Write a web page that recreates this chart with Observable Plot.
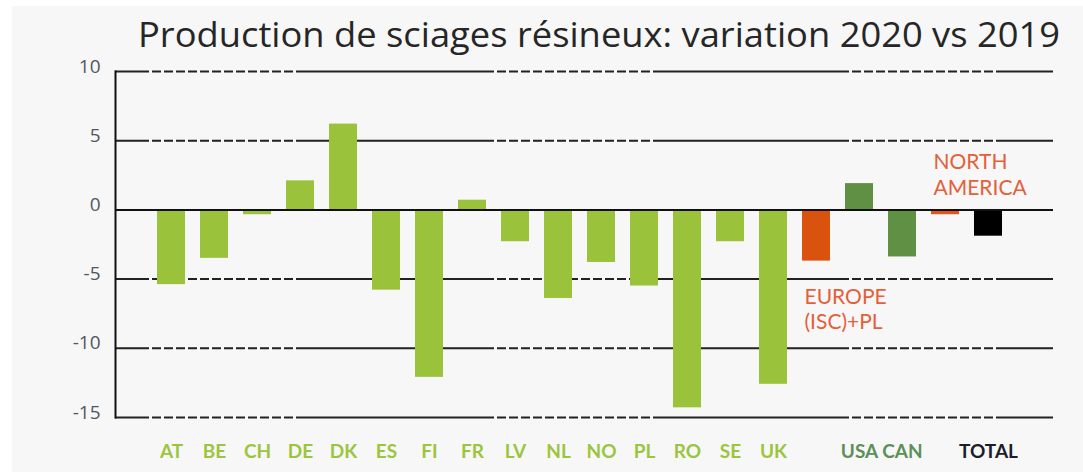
<!DOCTYPE html>
<html><head><meta charset="utf-8">
<script src="https://cdn.jsdelivr.net/npm/d3@7"></script>
<script src="https://cdn.jsdelivr.net/npm/@observablehq/plot@0.6"></script>
<style>
html,body{margin:0;padding:0;background:#fff;}
#wrap{position:relative;width:1083px;height:472px;overflow:hidden;}
#bg{position:absolute;left:12px;top:6px;right:0;bottom:0;background:#f7f7f7;}
#title{position:absolute;left:138px;top:14px;font-family:"Open Sans";font-size:35px;line-height:40px;color:#262626;white-space:nowrap;transform-origin:0 0;}
#chart{position:absolute;left:0;top:50px;}
</style></head>
<body><div id="wrap"><div id="bg"></div><div id="title">Production de sciages résineux: variation 2020 vs 2019</div><div id="chart"></div></div>
<script>
// ---- data ----
const categories = ["AT","BE","CH","DE","DK","ES","FI","FR","LV","NL","NO","PL","RO","SE","UK","EUROPE","USA","CAN","NORTH_AMERICA","TOTAL"];
const values     = [-5.4,-3.5,-0.35,2.1,6.2,-5.8,-12.1,0.7,-2.3,-6.4,-3.8,-5.5,-14.3,-2.3,-12.6,-3.7,1.9,-3.4,-0.35,-1.9];
const tickLabels = ["AT","BE","CH","DE","DK","ES","FI","FR","LV","NL","NO","PL","RO","SE","UK","","USA","CAN","","TOTAL"];
const groups     = ["country","country","country","country","country","country","country","country","country","country","country","country","country","country","country","europe","na_country","na_country","north_america","total"];
const yTicks = [10,5,0,-5,-10,-15];
const gridTicks = [10,5,-5,-10,-15];
const annotationCats = ["EUROPE","NORTH_AMERICA"];
const annotationY    = [-7.1, 2.6];
const annotationText = ["EUROPE\n(ISC)+PL","NORTH\nAMERICA"];

// ---- styles ----
const barColor = {country:"#9ac23a", europe:"#d9520e", na_country:"#5f9044", north_america:"#e0561c", total:"#000000"};
const labelColor = {country:"#9cc53e", europe:"#9cc53e", na_country:"#5d8f58", north_america:"#5d8f58", total:"#1c1c2a"};

// gridline pattern: solid / dashed stretches along the line
function buildDash(segs){
  const arr=[]; let pending=0;
  for (const [len,type] of segs){
    if (type==="s") pending += len;
    else { const n=Math.round(len/12); for (let i=0;i<n;i++){ arr.push(pending+9, 3); pending=0; } }
  }
  arr.push(pending+50, 0);
  return arr.join(",");
}
const dash = buildDash([[25,"s"],[158,"d"],[189,"s"],[171,"d"],[187,"s"],[160,"d"],[48,"s"]]);

const data = categories.map((c,i)=>({cat:c, value:values[i], label:tickLabels[i], group:groups[i]}));
const notes = annotationCats.map((c,i)=>({cat:c, y:annotationY[i], text:annotationText[i]}));

const plot = Plot.plot({
  width:1083, height:422,
  marginLeft:115, marginRight:30, marginTop:21, marginBottom:55,
  style:{background:"transparent", fontFamily:"Open Sans", overflow:"visible"},
  x:{domain:categories, axis:null, paddingInner:0.35, paddingOuter:0.175, insetLeft:30, insetRight:40},
  y:{domain:[-15,10], axis:null},
  marks:[
    Plot.ruleY(gridTicks, {stroke:"#222", strokeWidth:2, strokeDasharray:dash}),
    Plot.barY(data, {x:"cat", y:"value", fill:d=>barColor[d.group]}),
    Plot.ruleY([0], {stroke:"#111", strokeWidth:2}),
    Plot.frame({anchor:"left", stroke:"#111", strokeWidth:2}),
    Plot.axisY({ticks:yTicks, tickFormat:d=>String(d), tickSize:0, tickPadding:15, fontSize:19, fill:"#4f5763", dy:-5, label:null}),
    Plot.text(data, {x:"cat", text:"label", frameAnchor:"bottom", dy:40, fill:d=>labelColor[d.group], fontSize:19, fontWeight:"bold", fontFamily:"Lato"}),
    Plot.text(notes, {x:"cat", y:"y", text:"text", textAnchor:"start", dx:-12, fill:"#e4603a", fontSize:21, fontFamily:"Lato", lineHeight:1.22})
  ]
});
document.getElementById("chart").appendChild(plot);

const t = document.getElementById("title");
const w = t.getBoundingClientRect().width;
t.style.transform = `scaleX(${922/w})`;
</script>
</body></html>
